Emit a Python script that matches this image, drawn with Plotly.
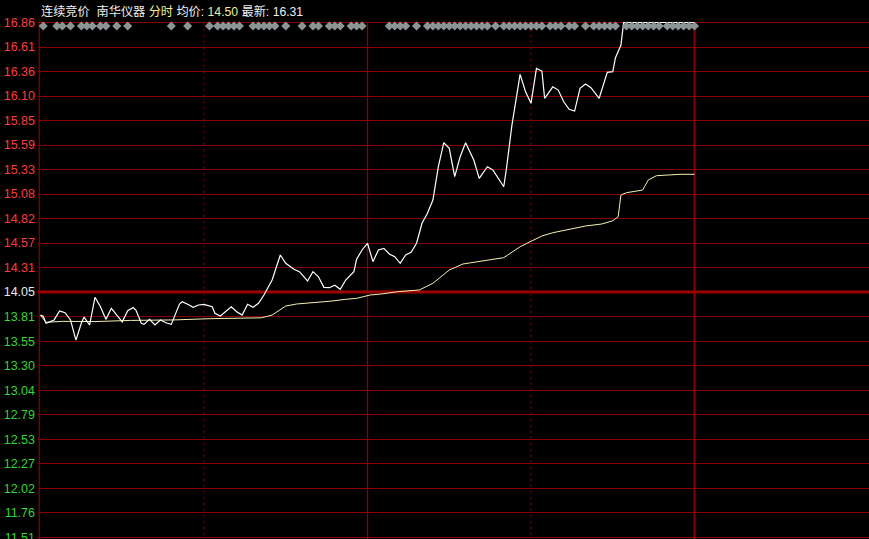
import plotly.graph_objects as go

# ---------------- data ----------------
PRE_CLOSE = 14.05
LIMIT_UP = 16.86
TICK_LABELS = ["16.86", "16.61", "16.36", "16.10", "15.85", "15.59", "15.33", "15.08",
               "14.82", "14.57", "14.31", "14.05", "13.81", "13.55", "13.30", "13.04",
               "12.79", "12.53", "12.27", "12.02", "11.76", "11.51", "11.24"]

PRICE_MIN = [0, 1, 2, 5, 7, 9, 11, 13, 15, 16, 18, 20, 22, 24, 26, 28, 30, 32, 34, 35,
             37, 38, 40, 42, 44, 46, 48, 51, 52, 54, 56, 58, 60, 63, 64, 66, 68, 70, 72, 74,
             76, 78, 80, 82, 85, 88, 90, 93, 95, 98, 100, 102, 104, 106, 108, 110, 112, 115,
             116, 118, 120, 122, 124, 126, 128, 130, 132, 134, 136, 138, 140, 142, 144, 146,
             148, 150, 152, 154, 156, 159, 161, 164, 166, 170, 171, 173, 176, 178, 180, 182,
             184, 185, 188, 190, 192, 194, 196, 198, 200, 202, 205, 208, 210, 211, 213, 214, 240]
PRICE_VAL = [13.81, 13.80, 13.725, 13.76, 13.853, 13.835, 13.76, 13.55, 13.728, 13.79,
             13.707, 13.996, 13.898, 13.766, 13.881, 13.81, 13.74, 13.856, 13.89, 13.863,
             13.725, 13.714, 13.767, 13.707, 13.759, 13.731, 13.714, 13.926, 13.95, 13.923,
             13.892, 13.916, 13.923, 13.898, 13.829, 13.801, 13.846, 13.898, 13.846, 13.811,
             13.923, 13.892, 13.933, 14.02, 14.176, 14.437, 14.35, 14.288, 14.263, 14.166,
             14.263, 14.21, 14.10, 14.096, 14.121, 14.079, 14.176, 14.263, 14.392, 14.489,
             14.559, 14.367, 14.489, 14.506, 14.447, 14.419, 14.35, 14.437, 14.465, 14.559,
             14.767, 14.871, 15.01, 15.357, 15.607, 15.549, 15.253, 15.461, 15.607, 15.427,
             15.236, 15.357, 15.323, 15.148, 15.34, 15.791, 16.32, 16.139, 16.018, 16.382,
             16.354, 16.07, 16.19, 16.156, 16.034, 15.955, 15.937, 16.174, 16.219, 16.18,
             16.07, 16.341, 16.347, 16.493, 16.625, 16.86, 16.86]

AVG_MIN = [0, 2, 8, 20, 33, 49, 62, 81, 85, 90, 94, 101, 107, 112, 116, 121, 125, 131,
           139, 144, 150, 155, 164, 170, 176, 180, 184, 188, 194, 200, 206, 210, 212, 213,
           215, 217, 221, 223, 226, 230, 235, 240]
AVG_VAL = [13.81, 13.735, 13.745, 13.743, 13.755, 13.76, 13.773, 13.782, 13.811, 13.905,
           13.926, 13.94, 13.957, 13.975, 13.985, 14.02, 14.03, 14.054, 14.072, 14.142,
           14.28, 14.343, 14.385, 14.409, 14.523, 14.575, 14.635, 14.669, 14.705, 14.739,
           14.76, 14.794, 14.836, 15.062, 15.086, 15.096, 15.114, 15.218, 15.263, 15.27,
           15.278, 15.278]

DIAMOND_MIN = [1, 6, 8, 11, 15, 17, 19, 22, 24, 28, 32, 48, 54, 62, 65, 67, 69, 71, 73,
               78, 80, 82, 84, 86, 90, 96, 100, 102, 106, 108, 110, 114, 116, 118, 128, 130,
               132, 134, 138, 142, 144, 146, 148, 150, 152, 154, 156, 158, 160, 162, 164,
               167, 170, 172, 174, 176, 178, 180, 182, 184, 187, 189, 191, 194, 196, 200,
               203, 205, 207, 209, 211, 215, 217, 219, 221, 223, 225, 227, 230, 232, 234,
               236, 238, 240]

TITLE_PARTS = [("连续竞价\u00a0\u00a0南华仪器\u00a0", "#f0f0f0"), ("分时\u00a0", "#eeee9a"),
               ("均价:\u00a0", "#f0f0f0"), ("14.50\u00a0", "#eeee9a"),
               ("最新:\u00a0", "#f0f0f0"), ("16.31", "#f0f0f0")]

# ---------------- layout constants ----------------
W, H = 869, 539
step = (LIMIT_UP - PRE_CLOSE) / 11
tick_vals = [LIMIT_UP - i * step for i in range(len(TICK_LABELS))]
px_per_unit = 24.51 / step
y_top = LIMIT_UP + 22.5 / px_per_unit
y_bot = LIMIT_UP - (H - 22.5) / px_per_unit
px_per_min = 163.5 / 60
x0_px = 40.5
L = 38
x_left = (L - x0_px) / px_per_min
x_right = (W - x0_px) / px_per_min

RED = "#ff3b3b"
GREEN = "#33d633"
WHITE = "#e8e8e8"


def label_color(v):
    if abs(v - PRE_CLOSE) < 1e-6:
        return WHITE
    return RED if v > PRE_CLOSE else GREEN


tick_text = [f"<span style='color:{label_color(v)}'>{t}</span>" for v, t in zip(tick_vals, TICK_LABELS)]

GRID = "#8a0000"
diamond_level = LIMIT_UP - 3.5 / px_per_unit

fig = go.Figure()
fig.add_trace(go.Scatter(x=AVG_MIN, y=AVG_VAL, mode="lines",
                         line=dict(color="#f5f0b0", width=1), hoverinfo="skip"))
fig.add_trace(go.Scatter(x=PRICE_MIN, y=PRICE_VAL, mode="lines",
                         line=dict(color="#ffffff", width=1.2), hoverinfo="skip"))
fig.add_trace(go.Scatter(x=DIAMOND_MIN, y=[diamond_level] * len(DIAMOND_MIN), mode="markers",
                         marker=dict(symbol="diamond", size=7, color="#8c9595",
                                     line=dict(width=0)), hoverinfo="skip"))

shapes = []
# pre-close thick line
shapes.append(dict(type="line", xref="paper", x0=0, x1=1, yref="y", y0=PRE_CLOSE, y1=PRE_CLOSE,
                   line=dict(color="#a80000", width=3), layer="below"))
# vertical lines
for m, dash, w in [(60, "dot", 1), (120, "solid", 1.3), (180, "dot", 1), (240, "solid", 2)]:
    shapes.append(dict(type="line", xref="x", x0=m, x1=m, yref="y", y0=LIMIT_UP, y1=y_bot,
                       line=dict(color=GRID if dash == "solid" else "#7a0000", width=w, dash=dash),
                       layer="below"))
# left border
shapes.append(dict(type="line", xref="paper", x0=0.0015, x1=0.0015, yref="y", y0=LIMIT_UP, y1=y_bot,
                   line=dict(color=GRID, width=1.2), layer="below"))

title_html = "".join(f"<span style='color:{c}'>{t}</span>" for t, c in TITLE_PARTS)

fig.update_layout(
    width=W, height=H,
    margin=dict(l=L, r=0, t=0, b=0, autoexpand=False),
    paper_bgcolor="#000000", plot_bgcolor="#000000",
    showlegend=False,
    font=dict(family="Liberation Sans, Arial, Noto Sans CJK SC", size=12, color=WHITE),
    xaxis=dict(range=[x_left, x_right], showgrid=False, zeroline=False, automargin=False,
               showticklabels=False, ticks="", fixedrange=True),
    yaxis=dict(range=[y_bot, y_top], tickvals=tick_vals, ticktext=tick_text,
               showgrid=True, gridcolor=GRID, gridwidth=1, zeroline=False, ticks="",
               automargin=False, ticklabelstandoff=2, ticklabeloverflow="allow",
               tickfont=dict(size=12.5), fixedrange=True),
    shapes=shapes,
    annotations=[dict(text=title_html, xref="paper", yref="paper", x=0.0, xshift=1,
                      y=1 - 11.5 / H, xanchor="left", yanchor="middle", showarrow=False,
                      font=dict(family="Liberation Sans, Noto Sans CJK SC", size=12.2))],
)

fig.write_html("out.html", config={"displayModeBar": False},
               post_script="document.body.style.margin='0';document.body.style.background='#000';"
                           "document.body.style.overflow='hidden';")
